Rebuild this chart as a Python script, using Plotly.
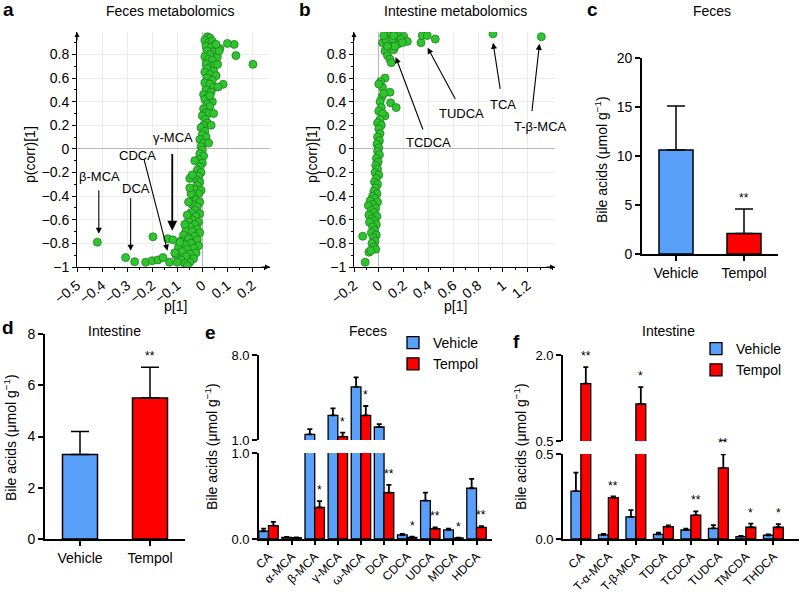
import plotly.graph_objects as go

FONT = "Liberation Sans, Arial, Helvetica, sans-serif"
BLUE = "#58a0fa"
RED = "#ff0000"
GREEN = "#2fc52f"

# a: feces metabolomics S-plot, (p[1], p(corr)[1])
feces_points = [
    (0.02, 0.95), (0.03, 0.94), (0.01, 0.92), (0.025, 0.90), (0.04, 0.91), (0.05, 0.88), (0.015, 0.87),
    (0.035, 0.86), (0.055, 0.85), (0.07, 0.85), (0.02, 0.83), (0.045, 0.82), (0.03, 0.80), (0.06, 0.78),
    (0.01, 0.78), (0.025, 0.76), (0.04, 0.75), (0.015, 0.72), (0.035, 0.70), (0.05, 0.71), (0.02, 0.68),
    (0.045, 0.66), (0.01, 0.65), (0.03, 0.63), (0.055, 0.62), (0.02, 0.60), (0.04, 0.58), (0.01, 0.56),
    (0.03, 0.55), (0.045, 0.52), (0.015, 0.50), (0.035, 0.48), (0.005, 0.46), (0.025, 0.44), (0.04, 0.40),
    (0.01, 0.42), (0.02, 0.38), (0.03, 0.36), (0.005, 0.34), (0.015, 0.31), (0.025, 0.30), (0.0, 0.28),
    (0.012, 0.25), (0.02, 0.22), (0.005, 0.20), (-0.005, 0.18), (0.01, 0.15), (0.0, 0.12), (0.015, 0.10),
    (-0.01, 0.08), (0.005, 0.05), (-0.005, 0.02), (0.0, -0.01), (-0.01, -0.04), (0.005, -0.06),
    (-0.015, -0.09), (0.0, -0.12), (-0.01, -0.15), (-0.02, -0.18), (-0.005, -0.20), (-0.015, -0.23),
    (-0.025, -0.26), (-0.01, -0.28), (-0.02, -0.31), (-0.03, -0.34), (-0.005, -0.35), (-0.015, -0.38),
    (-0.035, -0.40), (-0.025, -0.43), (-0.01, -0.45), (-0.04, -0.47), (-0.02, -0.49), (-0.03, -0.52),
    (-0.045, -0.54), (-0.01, -0.55), (-0.025, -0.57), (-0.04, -0.60), (-0.055, -0.61), (-0.015, -0.62),
    (-0.03, -0.64), (-0.05, -0.66), (-0.02, -0.68), (-0.065, -0.69), (-0.04, -0.70), (-0.01, -0.71),
    (-0.075, -0.73), (-0.03, -0.74), (-0.055, -0.76), (-0.02, -0.77), (-0.085, -0.78), (-0.045, -0.80),
    (-0.07, -0.81), (-0.015, -0.82), (-0.095, -0.83), (-0.035, -0.84), (-0.06, -0.85), (-0.08, -0.87),
    (-0.025, -0.88), (-0.05, -0.89), (-0.105, -0.90), (-0.065, -0.91), (-0.035, -0.93), (-0.085, -0.94),
    (-0.05, -0.96), (-0.07, -0.97), (-0.1, -0.96), (-0.06, -0.99), (-0.11, -0.88), (-0.09, -0.79),
    (-0.05, -0.25), (-0.045, -0.38), (-0.055, -0.45), (0.03, 0.45), (0.045, 0.30), (0.035, 0.20),
    (0.025, 0.05), (-0.03, -0.10), (-0.04, -0.22), (-0.05, -0.33), (-0.06, -0.56), (-0.07, -0.64),
    (0.202, 0.716), (0.134, 0.79), (0.127, 0.885), (0.10, 0.893), (0.083, 0.547), (0.063, 0.524),
    (0.061, 0.716), (0.067, 0.83), (0.055, 0.885),
    (-0.419, -0.79), (-0.306, -0.92), (-0.27, -0.955), (-0.226, -0.96), (-0.2, -0.947), (-0.177, -0.94),
    (-0.157, -0.92), (-0.197, -0.744), (-0.131, -0.96), (-0.138, -0.76), (-0.118, -0.77),
]

# b: intestine metabolomics S-plot
intestine_points = [
    (0.03, 0.90), (0.05, 0.95), (0.09, 0.96), (0.14, 0.92), (0.16, 0.955), (0.20, 0.955), (0.23, 0.91),
    (0.09, 0.87), (0.12, 0.84), (0.05, 0.83), (0.15, 0.885), (0.07, 0.79), (0.09, 0.76), (0.10, 0.73),
    (0.06, 0.92), (0.11, 0.93), (0.18, 0.93), (0.13, 0.87), (0.07, 0.87), (0.12, 0.96), (0.04, 0.96),
    (0.19, 0.90),
    (0.34, 0.90), (0.35, 0.96), (0.39, 0.96), (0.455, 0.93), (0.92, 0.975), (1.31, 0.95),
    (0.05, 0.60), (0.015, 0.57), (0.03, 0.52), (0.09, 0.48), (0.095, 0.39), (0.14, 0.35), (0.025, 0.44),
    (0.05, 0.28), (0.0, 0.55), (0.04, 0.47), (0.01, 0.40), (0.02, 0.35), (0.0, 0.32), (0.03, 0.30),
    (0.01, 0.25), (-0.01, 0.22), (0.02, 0.20), (0.0, 0.17), (0.01, 0.13), (-0.01, 0.10), (0.005, 0.07),
    (-0.015, 0.04), (0.0, 0.01), (-0.01, -0.02), (0.005, -0.05), (-0.02, -0.08), (-0.005, -0.11),
    (-0.025, -0.14), (-0.01, -0.17), (-0.03, -0.20), (0.0, -0.22), (-0.02, -0.25), (-0.035, -0.28),
    (-0.01, -0.30), (-0.025, -0.33), (-0.04, -0.36), (-0.015, -0.38), (-0.05, -0.40), (-0.03, -0.42),
    (-0.07, -0.44), (-0.01, -0.45), (-0.05, -0.47), (-0.085, -0.48), (-0.025, -0.50), (-0.06, -0.52),
    (-0.04, -0.54), (-0.08, -0.56), (-0.015, -0.57), (-0.055, -0.59), (-0.035, -0.61), (-0.075, -0.62),
    (-0.02, -0.64), (-0.05, -0.66), (-0.035, -0.69), (-0.06, -0.71), (-0.02, -0.73), (-0.045, -0.75),
    (-0.13, -0.74), (-0.03, -0.78), (-0.055, -0.80), (-0.04, -0.83), (-0.08, -0.875), (-0.025, -0.85),
    (-0.11, -0.96), (-0.065, -0.86),
]

# labelled metabolites: (name, text x, text y, arrow tail x, tail y, tip x, tip y)
feces_labels = [
    ("β-MCA", -0.409, -0.237, -0.413, -0.338, -0.413, -0.718),
    ("DCA", -0.263, -0.338, -0.286, -0.406, -0.286, -0.862),
    ("CDCA", -0.26, -0.057, -0.234, -0.076, -0.139, -0.862),
    ("γ-MCA", -0.118, 0.096, -0.12, -0.03, -0.12, -0.693),
]
intestine_labels = [
    ("TCDCA", 0.398, 0.053, 0.36, 0.152, 0.136, 0.778),
    ("TUDCA", 0.667, 0.297, 0.623, 0.41, 0.393, 0.857),
    ("TCA", 1.0, 0.38, 0.98, 0.496, 0.921, 0.899),
    ("T-β-MCA", 1.30, 0.19, 1.233, 0.307, 1.295, 0.89),
]

# c, d: total bile acids
groups = ["Vehicle", "Tempol"]
feces_total = [10.6, 2.1]
feces_total_err = [4.5, 2.5]
intestine_total = [3.3, 5.5]
intestine_total_err = [0.9, 1.2]
total_stars_c = ["", "**"]
total_stars_d = ["", "**"]

# e: feces individual bile acids
feces_ba = ["CA", "α-MCA", "β-MCA", "γ-MCA", "ω-MCA", "DCA", "CDCA", "UDCA", "MDCA", "HDCA"]
feces_vehicle = [0.09, 0.02, 1.47, 3.03, 5.37, 2.07, 0.047, 0.447, 0.105, 0.59]
feces_vehicle_err = [0.03, 0.005, 0.43, 0.57, 0.79, 0.23, 0.011, 0.093, 0.015, 0.11]
feces_tempol = [0.155, 0.015, 0.366, 1.27, 3.03, 0.54, 0.02, 0.12, 0.012, 0.136]
feces_tempol_err = [0.045, 0.004, 0.074, 0.33, 0.77, 0.09, 0.006, 0.016, 0.003, 0.014]
feces_stars = ["", "", "*", "*", "*", "**", "*", "**", "*", "**"]

# f: intestine individual bile acids
int_ba = ["CA", "T-α-MCA", "T-β-MCA", "TDCA", "TCDCA", "TUDCA", "TMCDA", "THDCA"]
int_vehicle = [0.282, 0.024, 0.13, 0.027, 0.053, 0.063, 0.014, 0.022]
int_vehicle_err = [0.108, 0.006, 0.04, 0.01, 0.008, 0.019, 0.004, 0.005]
int_tempol = [1.50, 0.243, 1.145, 0.073, 0.141, 0.418, 0.069, 0.069]
int_tempol_err = [0.29, 0.007, 0.295, 0.007, 0.022, 0.08, 0.021, 0.019]
int_stars = ["**", "**", "*", "", "**", "**", "*", "*"]

W, H = 800, 592


def px(x):
    return x / W


def py(y):
    return 1 - y / H


fig = go.Figure()

# ---- scatter panels
for pts, xa, ya in [(feces_points, "x", "y"), (intestine_points, "x2", "y2")]:
    fig.add_trace(go.Scatter(
        x=[p[0] for p in pts], y=[p[1] for p in pts], mode="markers",
        marker=dict(size=8, color=GREEN, line=dict(color="#1f7f1f", width=0.8)),
        xaxis=xa, yaxis=ya, showlegend=False, hoverinfo="skip"))

# ---- total bile acid panels
for vals, errs, xa, ya in [(feces_total, feces_total_err, "x3", "y3"),
                           (intestine_total, intestine_total_err, "x4", "y4")]:
    fig.add_trace(go.Bar(
        x=groups, y=vals, width=0.5, marker=dict(color=[BLUE, RED], line=dict(color="black", width=1.5)),
        error_y=dict(type="data", array=errs, arrayminus=[0, 0], symmetric=False,
                     color="black", thickness=1.5, width=9),
        xaxis=xa, yaxis=ya, showlegend=False))


# ---- broken-axis bar panels: same data drawn on a lower and an upper y range
def broken_bars(cats, veh, veh_err, tem, tem_err, w, xlow, xup, ylow, yup, legend):
    for xa, ya in ((xlow, ylow), (xup, yup)):
        first = ya == ylow
        fig.add_trace(go.Bar(
            x=cats, y=veh, width=w, offset=-w, name="Vehicle",
            marker=dict(color=BLUE, line=dict(color="black", width=1.3)),
            error_y=dict(type="data", array=veh_err, arrayminus=[0] * len(veh), symmetric=False,
                         color="black", thickness=1.8, width=2.5),
            xaxis=xa, yaxis=ya, legend=legend, showlegend=first))
        fig.add_trace(go.Bar(
            x=cats, y=tem, width=w, offset=0, name="Tempol",
            marker=dict(color=RED, line=dict(color="black", width=1.3)),
            error_y=dict(type="data", array=tem_err, arrayminus=[0] * len(tem), symmetric=False,
                         color="black", thickness=1.8, width=2.5),
            xaxis=xa, yaxis=ya, legend=legend, showlegend=first))


broken_bars(feces_ba, feces_vehicle, feces_vehicle_err, feces_tempol, feces_tempol_err,
            0.42, "x5", "x6", "y5", "y6", "legend")
broken_bars(int_ba, int_vehicle, int_vehicle_err, int_tempol, int_tempol_err,
            0.36, "x7", "x8", "y7", "y8", "legend2")

ann = []


def text(x, y, s, size=12, bold=False, angle=0):
    ann.append(dict(x=px(x), y=py(y), xref="paper", yref="paper", text=f"<b>{s}</b>" if bold else s,
                    showarrow=False, textangle=angle, xanchor="center", yanchor="middle",
                    font=dict(size=size, family=FONT, color="black")))


# panel letters
for s, x, y in [("a", 8, 9), ("b", 305, 9), ("c", 592, 10), ("d", 8, 327), ("e", 210, 332), ("f", 516, 341)]:
    text(x, y, s, size=19, bold=True)

# panel titles
text(170, 11, "Feces metabolomics", 14)
text(456, 11, "Intestine metabolomics", 14)
text(712, 11, "Feces", 14)
text(115, 331, "Intestine", 14)
text(368, 331, "Feces", 14)
text(668, 331, "Intestine", 14)

# axis titles
text(30, 155, "p(corr)[1]", 14, angle=-90)
text(312, 155, "p(corr)[1]", 14, angle=-90)
text(175, 306, "p[1]", 14)
text(455, 306, "p[1]", 14)
ytitle = "Bile acids (μmol g<sup>−1</sup>)"
text(601, 160, ytitle, 14, angle=-90)
text(10, 438, ytitle, 14, angle=-90)
text(211, 447, ytitle, 14, angle=-90)
text(520, 447, ytitle, 14, angle=-90)

# labelled metabolites with arrows
for labels, xr, yr in [(feces_labels, "x", "y"), (intestine_labels, "x2", "y2")]:
    for name, tx, ty, ax0, ay0, x1, y1 in labels:
        ann.append(dict(x=tx, y=ty, xref=xr, yref=yr, text=name, showarrow=False,
                        xanchor="center", yanchor="middle",
                        font=dict(size=13, family=FONT, color="black")))
        ann.append(dict(x=x1, y=y1, ax=ax0, ay=ay0, xref=xr, yref=yr, axref=xr, ayref=yr, text="",
                        showarrow=True, arrowhead=2, arrowsize=1.1,
                        arrowwidth=1.8 if name == "γ-MCA" else 1.1, arrowcolor="black"))

# axis-end arrows of S-plots
for xr, yr, xmin, xmax in [("x", "y", -0.5, 0.27), ("x2", "y2", -0.2, 1.42)]:
    ann.append(dict(x=xmax, y=-1, xref=xr, yref=yr, ax=-10, ay=0, text="", showarrow=True,
                    arrowhead=2, arrowsize=1, arrowwidth=1, arrowcolor="black"))
    ann.append(dict(x=xmin, y=0.99, xref=xr, yref=yr, ax=0, ay=10, text="", showarrow=True,
                    arrowhead=2, arrowsize=1, arrowwidth=1, arrowcolor="black"))


def star(x, y, s, xr, yr):
    ann.append(dict(x=x, y=y, xref=xr, yref=yr, text=s, showarrow=False, xanchor="center",
                    yanchor="bottom", yshift=2, font=dict(size=12, family=FONT, color="black")))


for i, s in enumerate(total_stars_c):
    if s:
        star(i, feces_total[i] + feces_total_err[i], s, "x3", "y3")
for i, s in enumerate(total_stars_d):
    if s:
        star(i, intestine_total[i] + intestine_total_err[i], s, "x4", "y4")
for stars, tem, err, w, xlow, xup, ylow, yup, brk in [
        (feces_stars, feces_tempol, feces_tempol_err, 0.42, "x5", "x6", "y5", "y6", 1.0),
        (int_stars, int_tempol, int_tempol_err, 0.36, "x7", "x8", "y7", "y8", 0.5)]:
    for i, s in enumerate(stars):
        if s:
            top = tem[i] + err[i]
            if top > brk:
                star(i + w / 2, top, s, xup, yup)
            else:
                star(i + w / 2, top, s, xlow, ylow)


def splot_axes(dom, rng, tickvals, minor):
    return dict(domain=dom, range=rng, tickvals=tickvals, ticks="outside", ticklen=4,
                tickwidth=1, tickcolor="black", showline=True, linecolor="black", linewidth=1,
                showgrid=True, gridcolor="#ececec", gridwidth=1, zeroline=True, zerolinecolor="#b8b8b8",
                zerolinewidth=1.2, automargin=False,
                minor=dict(dtick=minor, tick0=rng[0], ticks="outside", ticklen=2,
                           tickcolor="black", showgrid=False),
                tickfont=dict(size=14, family=FONT, color="black"))


def bar_axis(dom, rng=None, **kw):
    d = dict(domain=dom, showline=True, linecolor="black", linewidth=1.6, ticks="outside", ticklen=5,
             tickwidth=1.5, tickcolor="black", showgrid=False, zeroline=False, automargin=False,
             tickfont=dict(size=14, family=FONT, color="black"))
    if rng is not None:
        d["range"] = rng
    d.update(kw)
    return d


a_xticks = [-0.5, -0.4, -0.3, -0.2, -0.1, 0, 0.1, 0.2]
b_xticks = [-0.2, 0, 0.2, 0.4, 0.6, 0.8, 1, 1.2]
s_yticks = [-1, -0.8, -0.6, -0.4, -0.2, 0, 0.2, 0.4, 0.6, 0.8]
splot_y = [py(267), py(32)]
cat_font = dict(size=12, family=FONT, color="black")
brk_font = dict(size=13, family=FONT, color="black")
layout = dict(
    template="none",
    width=W, height=H, margin=dict(l=0, r=0, t=0, b=0, autoexpand=False),
    plot_bgcolor="white", paper_bgcolor="white",
    barmode="overlay", font=dict(family=FONT, color="black"),
    xaxis=dict(**splot_axes([px(77), px(270)], [-0.5, 0.27], a_xticks, 0.05), anchor="y", tickangle=-38),
    yaxis=dict(**splot_axes(splot_y, [-1, 0.99], s_yticks, 0.1), anchor="x"),
    xaxis2=dict(**splot_axes([px(354), px(555)], [-0.2, 1.42], b_xticks, 0.1), anchor="y2", tickangle=-38),
    yaxis2=dict(**splot_axes(splot_y, [-1, 0.99], s_yticks, 0.1), anchor="x2"),
    xaxis3=bar_axis([px(642), px(778)], [-0.5, 1.5], anchor="y3", type="category"),
    yaxis3=bar_axis([py(254), py(58)], [0, 20], anchor="x3", dtick=5),
    xaxis4=bar_axis([px(45), px(185)], [-0.5, 1.5], anchor="y4", type="category"),
    yaxis4=bar_axis([py(539), py(334)], [0, 8], anchor="x4", dtick=2),
    xaxis5=bar_axis([px(259), px(492)], [-0.41, 9.67], anchor="y5", type="category", tickangle=-45,
                    ticklen=4, tickfont=cat_font),
    yaxis5=bar_axis([py(539), py(453)], [0, 1.0], anchor="x5", tickvals=[0, 1], tickformat=".1f",
                    tickfont=brk_font),
    xaxis6=dict(domain=[px(259), px(492)], range=[-0.41, 9.67], anchor="y6", type="category",
                matches="x5", visible=False),
    yaxis6=bar_axis([py(440), py(355)], [1.0, 8.0], anchor="x6", tickvals=[1, 8], tickformat=".1f",
                    tickfont=brk_font),
    xaxis7=bar_axis([px(563), 0.999], [-0.65, 7.94], anchor="y7", type="category", tickangle=-45,
                    ticklen=4, tickfont=cat_font),
    yaxis7=bar_axis([py(539), py(454)], [0, 0.5], anchor="x7", tickvals=[0, 0.5], tickformat=".1f",
                    tickfont=brk_font),
    xaxis8=dict(domain=[px(563), 0.999], range=[-0.65, 7.94], anchor="y8", type="category",
                matches="x7", visible=False),
    yaxis8=bar_axis([py(441), py(355)], [0.5, 2.0], anchor="x8", tickvals=[0.5, 2.0], tickformat=".1f",
                    tickfont=brk_font),
    legend=dict(x=px(393), y=py(327), xanchor="left", yanchor="top", bgcolor="rgba(0,0,0,0)",
                font=dict(size=14, family=FONT), tracegroupgap=0),
    legend2=dict(x=px(696), y=py(333), xanchor="left", yanchor="top", bgcolor="rgba(0,0,0,0)",
                 font=dict(size=14, family=FONT), tracegroupgap=0),
    annotations=ann,
)
fig.update_layout(**layout)

# drop the page's default body margin so the figure sits at the window's corner
fig.write_html("out.html", config={"displayModeBar": False},
               post_script="document.body.style.margin='0';")
